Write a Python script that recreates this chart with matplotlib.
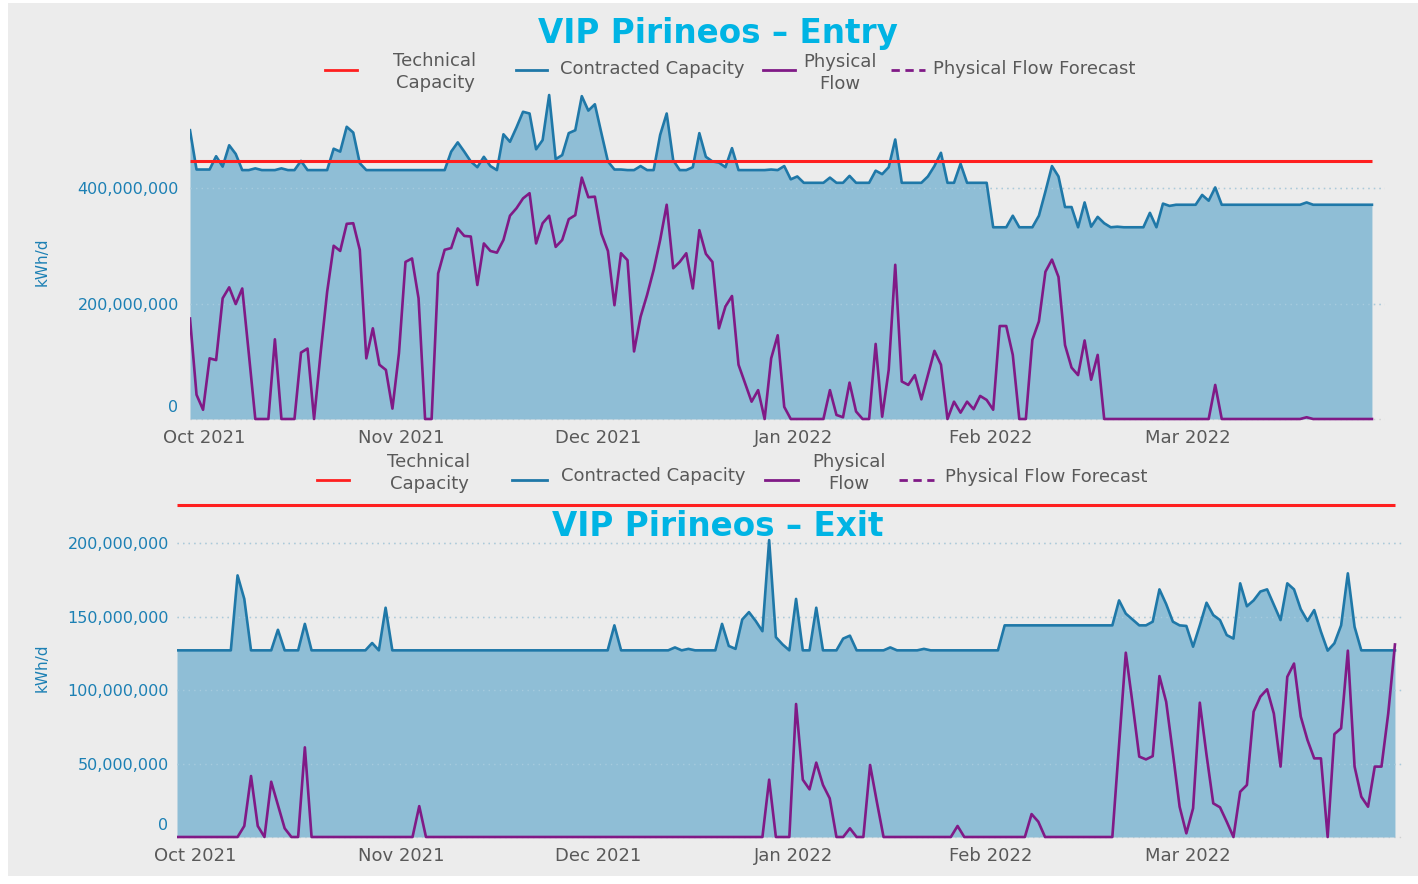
import matplotlib
matplotlib.use('Agg')
import matplotlib.pyplot as plt
from matplotlib.lines import Line2D
from matplotlib.patches import Rectangle
import pandas as pd
import numpy as np

# ---------------- data (million kWh/d) ----------------
dates = pd.date_range('2021-10-01', '2022-03-31', freq='D')

entry_contracted = [
    500, 432, 432, 432, 455, 437, 474, 459, 431, 431,
    434, 431, 431, 431, 434, 431, 431, 447, 431, 431,
    431, 431, 468, 463, 506, 496, 443, 431, 431, 431,
    431, 431, 431, 431, 431, 431, 431, 431, 431, 431,
    463, 479, 463, 446, 436, 454, 438, 431, 493, 480,
    505, 532, 529, 467, 483, 561, 450, 457, 495, 500,
    559, 534, 545, 495, 446, 432, 432, 431, 431, 438,
    431, 431, 492, 529, 448, 431, 431, 436, 495, 454,
    446, 444, 436, 469, 431, 431, 431, 431, 431, 432,
    431, 438, 415, 420, 409, 409, 409, 409, 418, 409,
    409, 421, 409, 409, 409, 430, 424, 436, 484, 409,
    409, 409, 409, 420, 438, 461, 409, 409, 442, 409,
    409, 409, 409, 332, 332, 332, 352, 332, 332, 332,
    352, 394, 438, 420, 367, 367, 332, 375, 333, 350,
    339, 332, 333, 332, 332, 332, 332, 357, 332, 373,
    369, 371, 371, 371, 371, 388, 378, 401, 371, 371,
    371, 371, 371, 371, 371, 371, 371, 371, 371, 371,
    371, 375, 371, 371, 371, 371, 371, 371, 371, 371,
    371, 371,
]

entry_physical = [
    174, 42, 16, 105, 102, 209, 228, 199, 226, 114,
    0, 0, 0, 138, 0, 0, 0, 115, 122, 0,
    114, 220, 300, 291, 338, 339, 293, 105, 157, 94,
    85, 18, 114, 272, 278, 209, 0, 0, 252, 293,
    296, 330, 317, 316, 232, 304, 291, 288, 310, 352,
    365, 382, 391, 304, 339, 352, 298, 310, 346, 353,
    418, 384, 385, 321, 291, 197, 287, 275, 117, 177,
    215, 258, 310, 371, 261, 272, 287, 226, 327, 286,
    272, 157, 195, 213, 94, 62, 30, 50, 0, 105,
    145, 21, 0, 0, 0, 0, 0, 0, 50, 7,
    3, 63, 13, 0, 0, 130, 4, 85, 267, 65,
    59, 76, 34, 76, 118, 94, 0, 30, 11, 30,
    17, 40, 33, 16, 161, 161, 111, 0, 0, 137,
    169, 255, 276, 246, 128, 89, 76, 136, 68, 111,
    0, 0, 0, 0, 0, 0, 0, 0, 0, 0,
    0, 0, 0, 0, 0, 0, 0, 59, 0, 0,
    0, 0, 0, 0, 0, 0, 0, 0, 0, 0,
    0, 3, 0, 0, 0, 0, 0, 0, 0, 0,
    0, 0,
]

exit_contracted = [
    127, 127, 127, 127, 127, 127, 127, 127, 127, 178,
    162, 127, 127, 127, 127, 141, 127, 127, 127, 145,
    127, 127, 127, 127, 127, 127, 127, 127, 127, 132,
    127, 156, 127, 127, 127, 127, 127, 127, 127, 127,
    127, 127, 127, 127, 127, 127, 127, 127, 127, 127,
    127, 127, 127, 127, 127, 127, 127, 127, 127, 127,
    127, 127, 127, 127, 127, 144, 127, 127, 127, 127,
    127, 127, 127, 127, 129, 127, 128, 127, 127, 127,
    127, 145, 130, 128, 148, 153, 147, 140, 202, 136,
    131, 127, 162, 127, 127, 156, 127, 127, 127, 135,
    137, 127, 127, 127, 127, 127, 129, 127, 127, 127,
    127, 128, 127, 127, 127, 127, 127, 127, 127, 127,
    127, 127, 127, 144, 144, 144, 144, 144, 144, 144,
    144, 144, 144, 144, 144, 144, 144, 144, 144, 144,
    161, 152, 148, 144, 144, 146.5, 168.5, 158.5, 146.5, 144,
    143.6, 129.5, 144, 159.4, 151, 147.6, 137.4, 135, 172.6, 157,
    161, 167, 168.5, 158, 147.6, 172.6, 168.5, 155, 147, 154.4,
    139.7, 126.8, 131.8, 144, 179.4, 143, 127, 127, 127, 127,
    127, 127,
]

exit_physical = [
    0, 0, 0, 0, 0, 0, 0, 0, 0, 0,
    7.5, 41.5, 7.5, 0, 37.6, 21.8, 5.9, 0, 0, 61,
    0, 0, 0, 0, 0, 0, 0, 0, 0, 0,
    0, 0, 0, 0, 0, 0, 21, 0, 0, 0,
    0, 0, 0, 0, 0, 0, 0, 0, 0, 0,
    0, 0, 0, 0, 0, 0, 0, 0, 0, 0,
    0, 0, 0, 0, 0, 0, 0, 0, 0, 0,
    0, 0, 0, 0, 0, 0, 0, 0, 0, 0,
    0, 0, 0, 0, 0, 0, 0, 0, 39, 0,
    0, 0, 90.5, 39, 32.4, 50.6, 35.4, 26.3, 0, 0,
    5.9, 0, 0, 49, 24, 0, 0, 0, 0, 0,
    0, 0, 0, 0, 0, 0, 7.5, 0, 0, 0,
    0, 0, 0, 0, 0, 0, 0, 15.6, 10.4, 0,
    0, 0, 0, 0, 0, 0, 0, 0, 0, 0,
    63, 125.4, 91, 54.7, 52.8, 55, 109.5, 92, 57, 20.6,
    2.5, 19.5, 91.4, 55.8, 22.9, 20.2, 10.4, 0, 30.8, 35.4,
    85.3, 95.5, 100.5, 84, 47.9, 109, 118, 82, 66, 53.5,
    53.5, 0, 70, 74, 126.8, 47.9, 27.4, 20.6, 47.9, 47.9,
    84, 131,
]

entry_technical = 447
exit_technical = 226

month_labels = ['Oct 2021', 'Nov 2021', 'Dec 2021',
                'Jan 2022', 'Feb 2022', 'Mar 2022']

entry_yticks = [0, 200, 400]
exit_yticks = [0, 50, 100, 150, 200]

legend_labels = ['Technical\nCapacity', 'Contracted Capacity',
                 'Physical\nFlow', 'Physical Flow Forecast']

# ---------------- layout / styling ----------------
W, H = 1418, 884
BG = '#ECECEC'
RED = '#FF1F1F'
BLUE = '#1F78A8'
FILL = '#8FBED6'
PURPLE = '#801A86'
TICKBLUE = '#1C80B4'
GREY = '#595959'
TITLE = '#00B4E4'

# pixel centres of the month labels as placed in the reference layout
label_px_top = [204, 401, 598, 794, 991, 1188]
label_px_bottom = [195, 401, 598, 794, 991, 1188]

plt.rcParams['font.family'] = ['DejaVu Sans']

fig = plt.figure(figsize=(W / 100, H / 100), dpi=100)
fig.patch.set_facecolor('white')
fig.add_artist(Rectangle((8 / W, 1 - 876 / H), 1 - 8 / W, (876 - 3) / H,
                         transform=fig.transFigure, facecolor=BG,
                         edgecolor='none', zorder=0))


def px_rect(l, t, r, b):
    return [l / W, 1 - b / H, (r - l) / W, (b - t) / H]


def fmt(v):
    return f'{int(v * 1e6):,}'


def draw_panel(ax, contracted, physical, technical, yticks, ylim,
               x0px, pxday, width_px, label_px, ypad):
    ax.set_facecolor('none')
    for s in ax.spines.values():
        s.set_visible(False)
    c = np.array(contracted) * 1e6
    p = np.array(physical) * 1e6
    for t in yticks:
        ax.axhline(t * 1e6, color='#CFCFCF', lw=1.0, ls=(0, (1, 3)), zorder=0)
    ax.fill_between(dates, 0, c, color=FILL, lw=0, zorder=1)
    for t in yticks[1:]:
        ax.axhline(t * 1e6, color='#A6CBDE', lw=1.0, ls=(0, (1, 3)),
                   zorder=1.5)
    ax.plot(dates, c, color=BLUE, lw=1.9, zorder=2)
    ax.hlines(technical * 1e6, dates[0], dates[-1], color=RED, lw=2.2,
              zorder=3)
    ax.plot(dates, p, color=PURPLE, lw=1.9, zorder=4)
    ax.set_xlim(dates[0], dates[0] + pd.Timedelta(days=width_px / pxday))
    ax.set_ylim(*ylim)
    tick_pos = [dates[0] + pd.Timedelta(days=(lp - x0px) / pxday)
                for lp in label_px]
    ax.set_xticks(tick_pos)
    ax.set_xticklabels(month_labels, fontsize=13, color=GREY)
    ax.set_yticks([t * 1e6 for t in yticks])
    ax.set_yticklabels([''] + [fmt(t) for t in yticks[1:]], fontsize=11.5,
                       color=TICKBLUE)
    ax.tick_params(axis='x', length=0, pad=6.0)
    ax.tick_params(axis='y', length=0, pad=ypad)
    ax.annotate('0', xy=(0, 0), xycoords=('axes fraction', 'data'),
                xytext=(-ypad - 0.5, 8.6), textcoords='offset points',
                ha='right', va='center', fontsize=11.5, color=TICKBLUE)


ax1 = fig.add_axes(px_rect(190, 90, 1385, 421))
draw_panel(ax1, entry_contracted, entry_physical, entry_technical,
           entry_yticks, (-3.46e6, 569.7e6), 190, 6.53, 1195,
           label_px_top, 7.9)

ax2 = fig.add_axes(px_rect(177, 500, 1402, 839))
draw_panel(ax2, exit_contracted, exit_physical, exit_technical,
           exit_yticks, (-1.36e6, 229.3e6), 177, 6.729, 1225,
           label_px_bottom, 5.8)

# titles
fig.text(718 / W, 1 - 33 / H, 'VIP Pirineos – Entry', ha='center',
         va='center', fontsize=23.5, fontweight='bold', color=TITLE)
fig.text(718 / W, 1 - 527 / H, 'VIP Pirineos – Exit', ha='center',
         va='center', fontsize=23.5, fontweight='bold', color=TITLE,
         zorder=10)

# y labels
fig.text(42 / W, 1 - 262 / H, 'kWh/d', rotation=90, ha='center',
         va='center', fontsize=11, color=TICKBLUE)
fig.text(42 / W, 1 - 668 / H, 'kWh/d', rotation=90, ha='center',
         va='center', fontsize=11, color=TICKBLUE)


def draw_legend(yline, items):
    for (x0, x1, color, ls, label, tx, ty, ha) in items:
        fig.add_artist(Line2D([x0 / W, x1 / W],
                              [1 - yline / H, 1 - yline / H],
                              transform=fig.transFigure, color=color, lw=2.0,
                              ls=ls))
        fig.text(tx / W, 1 - ty / H, label, ha=ha, va='center',
                 fontsize=13, color=GREY, linespacing=1.3,
                 multialignment='center')


dash = (0, (3, 2))
draw_legend(70, [
    (325, 357, RED, '-', legend_labels[0], 435, 72, 'center'),
    (516, 547, BLUE, '-', legend_labels[1], 560, 69, 'left'),
    (763, 795, PURPLE, '-', legend_labels[2], 840, 73, 'center'),
    (891, 925, PURPLE, dash, legend_labels[3], 933, 69, 'left'),
])
draw_legend(480, [
    (317, 349, RED, '-', legend_labels[0], 429, 473, 'center'),
    (512, 547, BLUE, '-', legend_labels[1], 561, 476, 'left'),
    (765, 798, PURPLE, '-', legend_labels[2], 849, 473, 'center'),
    (899, 934, PURPLE, dash, legend_labels[3], 945, 477, 'left'),
])

fig.savefig('out.png', dpi=100, facecolor=fig.get_facecolor())
